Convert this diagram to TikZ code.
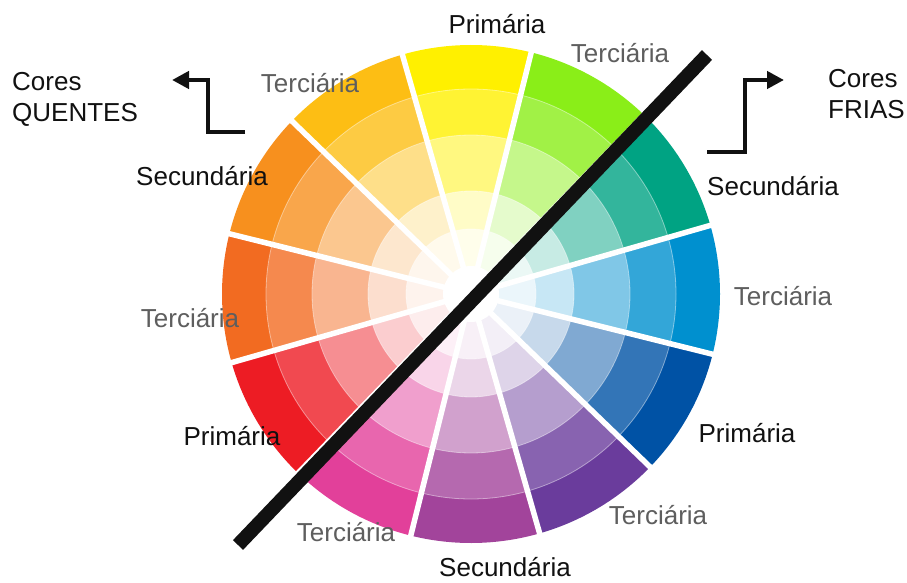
\documentclass[tikz,border=0pt]{standalone}
\usepackage{fontspec}
\setmainfont{Liberation Sans}
\usetikzlibrary{arrows.meta}
\definecolor{cYel}{HTML}{FFF000}
\definecolor{cLim}{HTML}{8AEE18}
\definecolor{cTea}{HTML}{00A383}
\definecolor{cCya}{HTML}{0090CF}
\definecolor{cBlu}{HTML}{0052A5}
\definecolor{cVio}{HTML}{6A3C9C}
\definecolor{cPur}{HTML}{A2449B}
\definecolor{cMag}{HTML}{E2409A}
\definecolor{cRed}{HTML}{ED1C24}
\definecolor{cRor}{HTML}{F26B21}
\definecolor{cOra}{HTML}{F7901E}
\definecolor{cYor}{HTML}{FDBE14}
\definecolor{lblgray}{HTML}{5E5E5E}
\definecolor{ink}{HTML}{111111}
\tikzset{
  lbl/.style={inner sep=0pt, font=\fontsize{26}{31}\selectfont, text=ink},
  tlbl/.style={lbl, text=lblgray},
  arrowline/.style={draw=ink, line width=4.5pt, -{Triangle[length=17pt,width=17pt]}},
  divider/.style={draw=ink, line width=14pt, line cap=butt}
}
\begin{document}
\begin{tikzpicture}[x=1pt,y=1pt]
\fill[white] (0,0) rectangle (907,582);
\useasboundingbox (0,0) rectangle (907,582);
% wheel
\begin{scope}[shift={(471,288)}]
\foreach \a/\c in {91/cYel,61/cLim,31/cTea,1/cCya,-29/cBlu,-59/cVio,-89/cPur,-119/cMag,-149/cRed,-179/cRor,151/cOra,121/cYor}{
  \foreach \r/\p in {249/100,205/80,159/50,103/22,65/8}{
    \fill[\c!\p!white] (0,0) -- (\a-15:\r) arc[start angle=\a-15,end angle=\a+15,radius=\r] -- cycle;
  }
}
\foreach \r in {205,159,103,65}{
  \draw[white, opacity=0.45, line width=0.8pt] (0,0) circle[radius=\r];
}
\foreach \a in {16,46,76,106,136,166,196,226,256,286,316,346}{
  \draw[white, line width=5.5pt] (0,0) -- (\a:262);
}
\fill[white] (0,0) circle[radius=28];
\end{scope}
% divider
\coordinate (dA) at (238,37);
\coordinate (dB) at (707,527);
\draw[divider] (dA) -- (dB);
% arrows
\coordinate (qa) at (245,450);
\coordinate (qb) at (208,450);
\coordinate (qc) at (208,502);
\coordinate (qd) at (172,502);
\draw[arrowline] (qa) -- (qb) -- (qc) -- (qd);
\coordinate (fa) at (707,430);
\coordinate (fb) at (745,430);
\coordinate (fc) at (745,502);
\coordinate (fd) at (784,502);
\draw[arrowline] (fa) -- (fb) -- (fc) -- (fd);
% labels
\node[lbl, align=left, anchor=west] (quentes) at (12,483) {Cores\\QUENTES};
\node[lbl, align=left, anchor=west] (frias) at (828,488) {Cores\\FRIAS};
\node[lbl] (p1) at (497,558) {Primária};
\node[tlbl] (t1) at (620,529) {Terciária};
\node[tlbl] (t2) at (310,499) {Terciária};
\node[lbl] (s1) at (202,406) {Secundária};
\node[lbl] (s2) at (773,396) {Secundária};
\node[tlbl] (t3) at (783,286) {Terciária};
\node[tlbl] (t4) at (190,264) {Terciária};
\node[lbl] (p2) at (747,149) {Primária};
\node[lbl] (p3) at (232,146) {Primária};
\node[tlbl] (t5) at (346,50) {Terciária};
\node[tlbl] (t6) at (658,67) {Terciária};
\node[lbl] (s3) at (505,15) {Secundária};
\end{tikzpicture}
\end{document}
